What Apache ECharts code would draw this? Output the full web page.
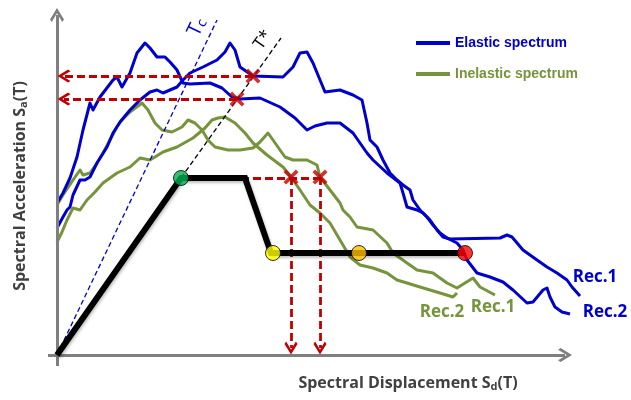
<!DOCTYPE html>
<html>
<head>
<meta charset="utf-8">
<script src="https://cdn.jsdelivr.net/npm/echarts@6/dist/echarts.min.js"></script>
<style>
  html, body { margin: 0; background: #fff; }
  #chart { width: 631px; height: 400px; }
</style>
</head>
<body>
<div id="chart"></div>
<script>
// values, in the chart's own units (x right, y down)
const elasticRec1 = [
  [57, 203], [63, 193], [70, 178], [77, 157], [83, 130], [90, 103], [93, 110], [100, 97],
  [113, 80], [117, 77], [122, 87], [130, 73], [137, 53], [145, 43], [150, 48], [157, 57],
  [165, 57], [170, 62], [177, 70], [183, 83], [190, 84], [210, 83], [222, 88], [232, 97],
  [240, 99], [260, 98], [280, 107], [295, 118], [307, 130], [315, 126], [327, 123], [340, 123],
  [353, 133], [360, 143], [367, 153], [373, 160], [387, 173], [400, 183], [403, 193], [407, 207],
  [417, 210], [423, 213], [430, 220], [437, 230], [443, 237], [450, 239], [500, 238], [507, 235],
  [512, 237], [523, 250], [537, 260], [547, 267], [557, 273], [567, 280], [572, 287], [580, 296]
];
const elasticRec2 = [
  [57, 228], [63, 217], [67, 210], [70, 207], [73, 195], [80, 180], [85, 180], [90, 177],
  [97, 163], [107, 147], [113, 133], [120, 122], [130, 110], [140, 100], [150, 92], [157, 90],
  [163, 93], [177, 87], [183, 80], [190, 73], [203, 67], [217, 60], [225, 52], [230, 43],
  [235, 50], [240, 67], [253, 76], [283, 77], [293, 67], [300, 53], [307, 52], [313, 63],
  [325, 92], [340, 90], [353, 95], [362, 100], [367, 123], [370, 140], [377, 147], [383, 160],
  [390, 173], [397, 180], [403, 185], [410, 190], [413, 200], [420, 210], [427, 217], [433, 225],
  [440, 233], [447, 238], [457, 243], [463, 250], [467, 260], [477, 273], [490, 277], [503, 282],
  [513, 290], [527, 303], [533, 302], [543, 290], [547, 288], [550, 297], [555, 307], [562, 312],
  [570, 314]
];
const inelasticRec1 = [
  [57, 205], [63, 195], [73, 180], [80, 170], [83, 175], [90, 173], [97, 163], [103, 153],
  [110, 140], [117, 127], [122, 120], [130, 112], [142, 103], [148, 110], [155, 123], [162, 130],
  [172, 132], [182, 127], [188, 120], [195, 123], [202, 130], [208, 140], [215, 147], [228, 150],
  [240, 150], [253, 148], [260, 142], [268, 133], [273, 140], [280, 150], [285, 157], [293, 160],
  [307, 160], [317, 165], [320, 177], [330, 190], [340, 203], [343, 210], [350, 217], [357, 227],
  [373, 230], [387, 243], [393, 253], [407, 263], [417, 270], [433, 273], [447, 283], [457, 288],
  [473, 278], [480, 287], [495, 295]
];
const inelasticRec2 = [
  [57, 242], [62, 232], [67, 220], [73, 208], [80, 210], [87, 200], [95, 192], [103, 183],
  [117, 173], [130, 167], [140, 158], [150, 160], [163, 152], [177, 147], [193, 138], [205, 128],
  [212, 120], [218, 118], [225, 117], [235, 123], [245, 133], [253, 143], [267, 155], [283, 167],
  [291, 177], [300, 190], [310, 205], [320, 213], [330, 223], [340, 240], [350, 257], [360, 265],
  [373, 268], [387, 273], [397, 280], [407, 283], [420, 287], [430, 290], [440, 293], [453, 297],
  [457, 293]
];
const capacityCurve = [[57, 355], [181, 178], [245, 178], [271, 253], [465, 253]];
const performancePoints = [[181, 178], [273, 253], [359, 253], [465, 253]];
const crossMarks = [[253, 76], [237, 99], [291, 177], [320, 177]];

const axisLines = [[[48, 355], [565, 355]], [[57, 366], [57, 15]]];
const readArrows = [
  [[253, 76], [64, 76]], [[237, 99], [64, 99]],
  [[291, 177], [291, 348]], [[320, 177], [320, 348]]
];
const readLine = [[[181, 178], [320, 178]]];
const tcLine = [[[57, 355], [217, 20]]];
const tStarLine = [[[181, 178], [281, 38]]];

const legendNames = ['Elastic spectrum', 'Inelastic spectrum'];
const recNames = ['Rec.1', 'Rec.2'];

const BLUE = '#0000cc';
const GREEN = '#77933c';
const RED = '#c00000';
const pointColors = ['#00b050', '#ffff00', '#ffc000', '#ff0000'];

const chevron = 'path://M10,0 L20,11 L17.5,13.5 L10,5 L2.5,13.5 L0,11 Z';
const cross = 'path://M0,3.5 L3.5,0 L10,6.5 L16.5,0 L20,3.5 L13.5,10 L20,16.5 L16.5,20 L10,13.5 L3.5,20 L0,16.5 L6.5,10 Z';

function segs(list) {
  return list.map((s) => [{ coord: s[0] }, { coord: s[1] }]);
}

function guide(lines, color, width, dash, symbol, size, z) {
  return {
    type: 'line',
    data: [],
    silent: true,
    z: z,
    markLine: {
      silent: true,
      animation: false,
      symbol: ['none', symbol],
      symbolSize: size,
      label: { show: false },
      emphasis: { disabled: true },
      lineStyle: { color: color, width: width, type: dash, opacity: 1 },
      data: segs(lines),
    },
  };
}

function spectrum(name, data, color) {
  return {
    type: 'line',
    name: name,
    data: data,
    symbol: 'none',
    silent: true,
    lineStyle: { color: color, width: 3, join: 'round' },
    itemStyle: { color: color },
    z: 3,
  };
}

const chart = echarts.init(document.getElementById('chart'));

const titleFont = { fontFamily: 'Open Sans', fontWeight: 'bold', fill: '#404040' };

chart.setOption({
  animation: false,
  backgroundColor: '#fff',
  grid: { left: 0, right: 0, top: 0, bottom: 0 },
  xAxis: { type: 'value', min: 0, max: 631, show: false },
  yAxis: { type: 'value', min: 0, max: 400, inverse: true, show: false },
  legend: {
    orient: 'vertical',
    left: 416,
    top: 36,
    padding: 0,
    icon: 'rect',
    itemWidth: 34,
    itemHeight: 4,
    itemGap: 17,
    selectedMode: false,
    textStyle: { fontFamily: 'Liberation Sans', fontWeight: 'bold', fontSize: 14 },
    data: [
      { name: legendNames[0], textStyle: { color: BLUE } },
      { name: legendNames[1], textStyle: { color: GREEN } },
    ],
  },
  series: [
    guide(axisLines, '#7f7f7f', 3, 'solid', chevron, 14, 1),
    guide(tcLine, BLUE, 1.3, [5, 3], 'none', 0, 2),
    spectrum(legendNames[1], inelasticRec1, GREEN),
    spectrum(legendNames[1], inelasticRec2, GREEN),
    spectrum(legendNames[0], elasticRec1, BLUE),
    spectrum(legendNames[0], elasticRec2, BLUE),
    guide(tStarLine, '#000', 1.3, [5, 3], 'none', 0, 4),
    {
      type: 'line',
      data: capacityCurve,
      symbol: 'none',
      silent: true,
      z: 5,
      lineStyle: {
        color: '#000', width: 6, join: 'miter',
        shadowColor: 'rgba(0,0,0,0.25)', shadowBlur: 3, shadowOffsetX: 1, shadowOffsetY: 2,
      },
    },
    guide(readLine, RED, 2.8, [8, 4], 'none', 0, 6),
    guide(readArrows, RED, 2.8, [8, 4], chevron, 13, 6),
    {
      type: 'scatter',
      data: crossMarks,
      symbol: cross,
      symbolSize: 15,
      silent: true,
      z: 7,
      itemStyle: { color: RED },
    },
    {
      type: 'scatter',
      data: performancePoints.map((p, i) => ({
        value: p,
        itemStyle: { color: pointColors[i] },
      })),
      symbolSize: 15,
      silent: true,
      z: 8,
      itemStyle: { borderColor: '#000', borderWidth: 1 },
    },
  ],
  graphic: [
    {
      type: 'text', x: 20, y: 186, rotation: Math.PI / 2, silent: true,
      style: {
        text: '{m|Spectral Acceleration S}{s|a}{m|(T)}',
        align: 'center', verticalAlign: 'middle',
        rich: {
          m: Object.assign({ fontSize: 16 }, titleFont),
          s: Object.assign({ fontSize: 11, padding: [8, 0, 0, 0] }, titleFont),
        },
      },
    },
    {
      type: 'text', x: 408, y: 383, silent: true,
      style: {
        text: '{m|Spectral Displacement S}{s|d}{m|(T)}',
        align: 'center', verticalAlign: 'middle',
        rich: {
          m: Object.assign({ fontSize: 16 }, titleFont),
          s: Object.assign({ fontSize: 11, padding: [8, 0, 0, 0] }, titleFont),
        },
      },
    },
    {
      type: 'text', x: 197, y: 27, rotation: 1.12, silent: true,
      style: {
        text: '{m|T}{s|c}', align: 'center', verticalAlign: 'middle',
        rich: {
          m: { fontFamily: 'Open Sans', fontSize: 20, fill: BLUE },
          s: { fontFamily: 'Open Sans', fontSize: 14, fill: BLUE, padding: [6, 0, 0, 0] },
        },
      },
    },
    {
      type: 'text', x: 263, y: 40, rotation: 0.95, silent: true,
      style: {
        text: 'T*', align: 'center', verticalAlign: 'middle',
        fontFamily: 'Open Sans', fontSize: 17, fill: '#000',
      },
    },
    {
      type: 'text', x: 595, y: 277, silent: true,
      style: { text: recNames[0], align: 'center', verticalAlign: 'middle', fontFamily: 'Open Sans', fontWeight: 'bold', fontSize: 17, fill: BLUE },
    },
    {
      type: 'text', x: 605, y: 312, silent: true,
      style: { text: recNames[1], align: 'center', verticalAlign: 'middle', fontFamily: 'Open Sans', fontWeight: 'bold', fontSize: 17, fill: BLUE },
    },
    {
      type: 'text', x: 493, y: 307, silent: true,
      style: { text: recNames[0], align: 'center', verticalAlign: 'middle', fontFamily: 'Open Sans', fontWeight: 'bold', fontSize: 17, fill: GREEN },
    },
    {
      type: 'text', x: 442, y: 312, silent: true,
      style: { text: recNames[1], align: 'center', verticalAlign: 'middle', fontFamily: 'Open Sans', fontWeight: 'bold', fontSize: 17, fill: GREEN },
    },
  ],
});
</script>
</body>
</html>
